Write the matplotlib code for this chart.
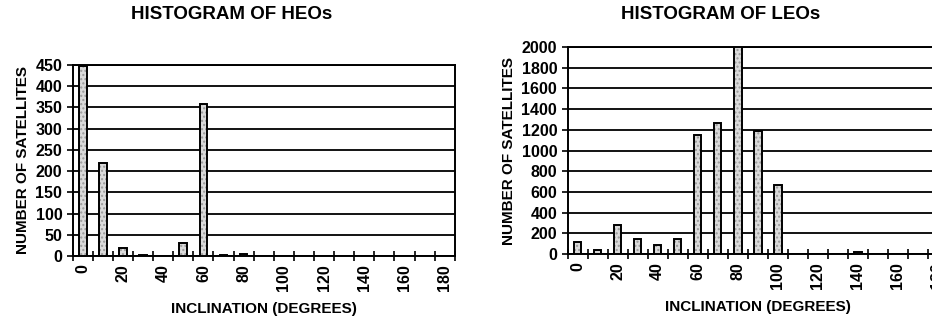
import numpy as np
import matplotlib
matplotlib.use("Agg")
import matplotlib.pyplot as plt

plt.rcParams['font.family'] = ['Liberation Sans', 'DejaVu Sans']

# inclination bins (degrees) and satellite counts
inclination = [0, 10, 20, 30, 40, 50, 60, 70, 80, 90, 100, 110, 120, 130, 140, 150, 160, 170, 180]
heo_counts = [447, 218, 18, 3, 0, 30, 358, 3, 4, 0, 0, 0, 0, 0, 0, 0, 0, 0, 0]
leo_counts = [120, 35, 280, 150, 85, 145, 1150, 1270, 2000, 1190, 670, 5, 5, 2, 20, 2, 0, 3, 0]
tick_labels = ["0", "20", "40", "60", "80", "100", "120", "140", "160", "180"]


def histo(ax, counts, ymax, ystep, title, title_x):
    x = np.arange(len(inclination))
    # stippled fill first, then the black outline on top
    ax.bar(x, counts, width=0.38, color="#dadada", edgecolor="#9a9a9a",
           linewidth=0, hatch="....", zorder=3)
    ax.bar(x, counts, width=0.38, fill=False, edgecolor="black",
           linewidth=1.4, zorder=4)
    ax.set_xlim(-0.5, len(inclination) - 0.5)
    ax.set_ylim(0, ymax)
    ax.set_yticks(np.arange(0, ymax + 1, ystep))
    ax.yaxis.grid(True, color="black", linewidth=1.3)
    ax.set_axisbelow(True)
    # boundary ticks without labels, labels on every other category
    ax.set_xticks(np.arange(-0.5, len(inclination)), minor=False)
    ax.set_xticklabels([])
    ax.tick_params(axis="x", which="major", direction="inout", length=7, width=1.2)
    ax.set_xticks(x[::2], minor=True)
    ax.set_xticklabels(tick_labels, minor=True, rotation=90,
                       fontsize=11.5, fontweight="bold")
    ax.tick_params(axis="x", which="minor", length=0, pad=6)
    ax.tick_params(axis="y", direction="out", length=4, width=1.2,
                   labelsize=11.5)
    for lbl in ax.get_yticklabels():
        lbl.set_fontweight("bold")
    for s in ax.spines.values():
        s.set_linewidth(1.4)
    ax.set_ylabel("NUMBER OF SATELLITES", fontsize=11, fontweight="bold")
    ax.set_xlabel("INCLINATION (DEGREES)", fontsize=11, fontweight="bold",
                  labelpad=8)
    ax.figure.text(title_x, 0.955, title, ha="center", va="center",
                   fontsize=13.5, fontweight="bold")


fig = plt.figure(figsize=(9.32, 3.2), dpi=100)
ax1 = fig.add_axes([0.078, 0.2, 0.41, 0.597])
ax2 = fig.add_axes([0.609, 0.206, 0.408, 0.647])

histo(ax1, heo_counts, 450, 50, "HISTOGRAM OF HEOs", 0.248)
histo(ax2, leo_counts, 2000, 200, "HISTOGRAM OF LEOs", 0.773)

fig.savefig("out.png", dpi=100)
